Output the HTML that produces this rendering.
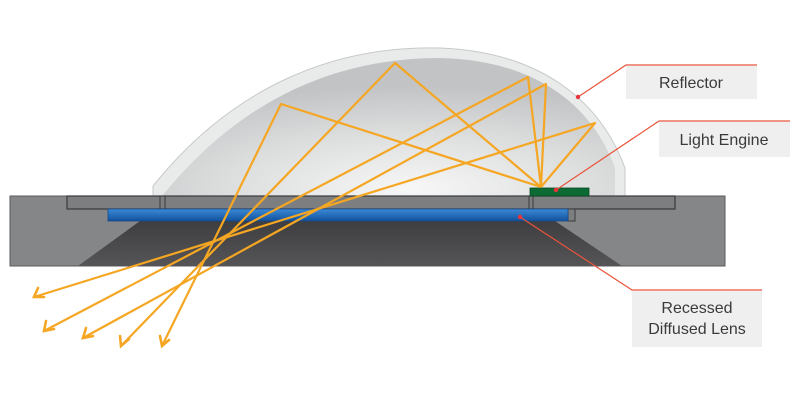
<!DOCTYPE html>
<html><head><meta charset="utf-8"><style>
html,body{margin:0;padding:0;background:#fff;}
svg{display:block;}
text{font-family:"Liberation Sans",sans-serif;fill:#3a3a3a;font-size:16px;}
</style></head><body>
<svg width="800" height="400" viewBox="0 0 800 400">
<defs>
<radialGradient id="dome" cx="0.55" cy="0.95" r="0.75">
<stop offset="0" stop-color="#f7f7f7"/><stop offset="0.55" stop-color="#dcdddd"/><stop offset="1" stop-color="#c2c3c5"/>
</radialGradient>
<linearGradient id="blue" x1="0" y1="0" x2="0" y2="1">
<stop offset="0" stop-color="#3b8ad6"/><stop offset="1" stop-color="#11529e"/>
</linearGradient>
<linearGradient id="dark" x1="0" y1="0" x2="0" y2="1">
<stop offset="0" stop-color="#3e3e40"/><stop offset="1" stop-color="#555557"/>
</linearGradient>
</defs>
<!-- dome -->
<path d="M153,196 L153,186 C230,90 330,45 440,48 C540,52 600,100 625,168 L625,196 Z" fill="#e9eaea" stroke="#c8c9ca" stroke-width="1"/>
<path d="M162,196 C240,100 335,58 440,58 C535,60 592,105 615,168 L615,196 Z" fill="url(#dome)"/>
<!-- base -->
<rect x="10" y="196" width="715" height="70" fill="#858688" stroke="#5a5a5c" stroke-width="1"/>
<polygon points="140,221 555,221 622,266 78,266" fill="url(#dark)"/>
<rect x="67" y="196" width="608" height="13" fill="#7d7e80" stroke="#3a3a3c" stroke-width="1.2"/>
<line x1="160" y1="196" x2="160" y2="209" stroke="#3a3a3c"/>
<line x1="165" y1="196" x2="165" y2="209" stroke="#3a3a3c"/>
<line x1="529" y1="196" x2="529" y2="209" stroke="#3a3a3c"/>
<line x1="533" y1="196" x2="533" y2="209" stroke="#3a3a3c"/>
<rect x="568" y="209" width="7" height="12" fill="#7d7e80" stroke="#3a3a3c"/>
<rect x="108" y="209" width="460" height="12" fill="url(#blue)" stroke="#1a4a88" stroke-width="0.8"/>
<rect x="530" y="188" width="59" height="8" fill="#0c6b34" stroke="#0a4a22" stroke-width="0.8"/>
<!-- rays -->
<g stroke="#f5a623" stroke-width="2.2" fill="none" stroke-linejoin="round">
<polyline points="541,187 395,63 121,346"/>
<polyline points="541,187 281,104 162,346"/>
<polyline points="541,187 528,77 44,331"/>
<polyline points="541,187 546,84 83,338"/>
<polyline points="541,187 595,123 34,297"/>
</g>
<g stroke="#f5a623" stroke-width="2.6" fill="none" stroke-linecap="round">
<polyline points="120,336 121,346 129,339"/>
<polyline points="160,336 162,346 169,340"/>
<polyline points="46,321 44,331 54,329"/>
<polyline points="86,328 83,338 93,336"/>
<polyline points="38,288 34,297 44,297"/>
</g>
<!-- leaders -->
<g stroke="#e8543c" stroke-width="1.2" fill="none">
<polyline points="578,97 626,65 757,65"/>
<polyline points="556,190 659,121 790,121"/>
<polyline points="520,217 632,290 762,290"/>
</g>
<g fill="#e8343c"><circle cx="578" cy="97" r="2.2"/><circle cx="556" cy="190" r="2.2"/><circle cx="520" cy="217" r="2.2"/></g>
<rect x="626" y="66" width="131" height="33" fill="#efefef"/>
<rect x="659" y="122" width="131" height="35" fill="#efefef"/>
<rect x="632" y="291" width="130" height="56" fill="#efefef"/>
<text x="691" y="88" text-anchor="middle">Reflector</text>
<text x="724" y="145" text-anchor="middle">Light Engine</text>
<text x="697" y="313" text-anchor="middle">Recessed</text>
<text x="697" y="334" text-anchor="middle">Diffused Lens</text>
</svg>
</body></html>
